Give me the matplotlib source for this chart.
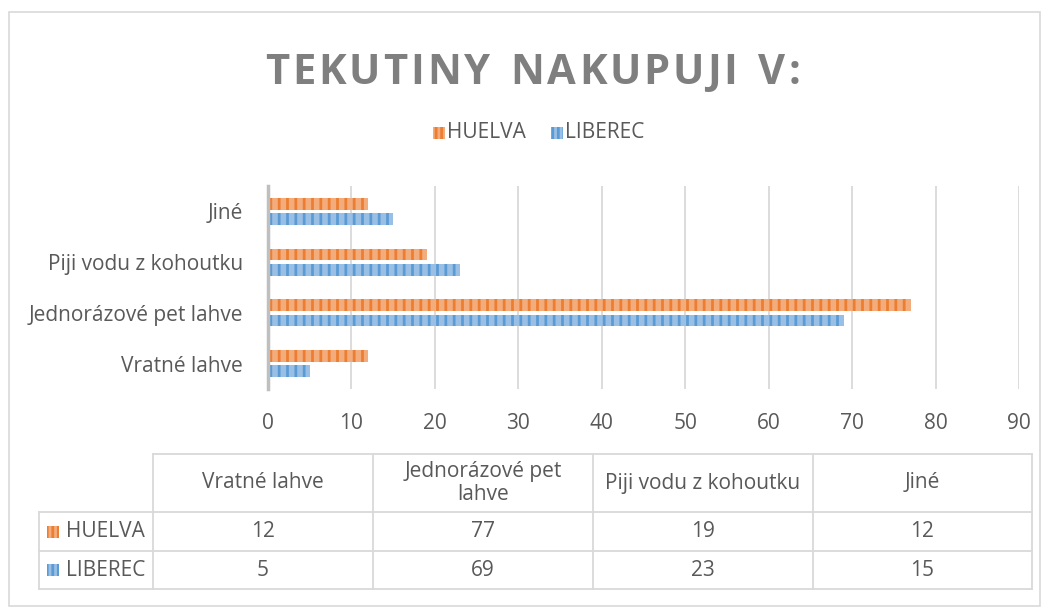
import matplotlib
matplotlib.use("Agg")
import matplotlib.pyplot as plt
from matplotlib.patches import Rectangle
from matplotlib.lines import Line2D
import numpy as np

categories = ["Vratné lahve", "Jednorázové pet lahve", "Piji vodu z kohoutku", "Jiné"]
series_names = ["HUELVA", "LIBEREC"]
huelva = [12, 77, 19, 12]
liberec = [5, 69, 23, 15]
x_ticks = [0, 10, 20, 30, 40, 50, 60, 70, 80, 90]
title = "TEKUTINY NAKUPUJI V:"

W, H = 1049, 610
DPI = 100
plt.rcParams['font.family'] = ['Open Sans', 'DejaVu Sans']
plt.rcParams['hatch.linewidth'] = 2.0

fig = plt.figure(figsize=(W / DPI, H / DPI), dpi=DPI)
fig.patch.set_facecolor("white")

def fx(x):
    return x / W

def fy(y):
    return 1 - y / H

TXT = "#595959"
GRID = "#D9D9D9"
ORANGE = "#ED7D31"
ORANGE_F = "#F3AC7C"
BLUE = "#5B9BD5"
BLUE_F = "#99C0E4"
FS = 15

# outer chart border
fig.add_artist(Rectangle((fx(9), fy(606)), fx(1040) - fx(9), fy(12) - fy(606),
                         transform=fig.transFigure, fill=False, edgecolor=GRID, lw=1.2))

# axes
ax_l, ax_r, ax_t, ax_b = 268, 1019, 186, 389
ax = fig.add_axes([fx(ax_l), fy(ax_b), fx(ax_r) - fx(ax_l), fy(ax_t) - fy(ax_b)])
y = np.arange(len(categories))
bh = 0.23
off = 0.15
ax.barh(y + off, huelva, height=bh, color=ORANGE_F, edgecolor=ORANGE, hatch='||', lw=0, zorder=3)
ax.barh(y - off, liberec, height=bh, color=BLUE_F, edgecolor=BLUE, hatch='||', lw=0, zorder=3)
ax.set_xlim(0, 90)
ax.set_ylim(-0.5, len(categories) - 0.5)
ax.set_xticks(x_ticks)
ax.set_xticklabels([str(t) for t in x_ticks])
ax.set_yticks(y)
ax.set_yticklabels(categories)
ax.tick_params(axis='both', length=0, labelsize=FS, colors=TXT)
ax.tick_params(axis='x', pad=17)
ax.tick_params(axis='y', pad=18)
ax.grid(axis='x', color=GRID, lw=1.3, zorder=0)
for s in ['top', 'right', 'bottom']:
    ax.spines[s].set_visible(False)
ax.spines['left'].set_color('#BFBFBF')
ax.spines['left'].set_linewidth(2.5)
ax.spines['left'].set_zorder(4)

# title with letter spacing
renderer = fig.canvas.get_renderer()
tsize = 30
widths = []
for ch in title:
    t = fig.text(0, 0, ch if ch != " " else "n", fontsize=tsize, fontweight='bold')
    bb = t.get_window_extent(renderer)
    widths.append(bb.width if ch != " " else bb.width * 0.55)
    t.remove()
target_w = 800 - 265
extra = (target_w - sum(widths)) / (len(title) - 1)
xpos = 265
for ch, w in zip(title, widths):
    if ch != " ":
        fig.text(fx(xpos), fy(73), ch, fontsize=tsize, fontweight='bold', color="#7F7F7F",
                 ha='left', va='center')
    xpos += w + extra

# legend
def hatched_key(x, y, color, fill, size=12):
    fig.add_artist(Rectangle((fx(x), fy(y + size / 2)), size / W, size / H,
                             transform=fig.transFigure, facecolor=fill, edgecolor=color,
                             hatch='|||', lw=0))

leg_items = [(433, series_names[0], ORANGE, ORANGE_F), (551, series_names[1], BLUE, BLUE_F)]
for x0, name, c, f in leg_items:
    hatched_key(x0, 133, c, f)
    fig.text(fx(x0 + 14), fy(133), name, fontsize=FS, color=TXT, va='center', ha='left')

# data table
col_x = [153, 373, 593, 813, 1032]
lab_x0 = 39
row_y = [454, 512, 551, 589]
lc = GRID
lw = 1.3
def hline(x0, x1, yy):
    fig.add_artist(Line2D([fx(x0), fx(x1)], [fy(yy), fy(yy)], transform=fig.transFigure, color=lc, lw=lw))
def vline(xx, y0, y1):
    fig.add_artist(Line2D([fx(xx), fx(xx)], [fy(y0), fy(y1)], transform=fig.transFigure, color=lc, lw=lw))

hline(col_x[0], col_x[-1], row_y[0])
for yy in row_y[1:]:
    hline(lab_x0, col_x[-1], yy)
for xx in col_x:
    vline(xx, row_y[0], row_y[-1])
vline(lab_x0, row_y[1], row_y[-1])

header_labels = ["Vratné lahve", "Jednorázové pet\nlahve", "Piji vodu z kohoutku", "Jiné"]
for i, lab in enumerate(header_labels):
    cx = (col_x[i] + col_x[i + 1]) / 2
    fig.text(fx(cx), fy((row_y[0] + row_y[1]) / 2), lab, fontsize=FS, color=TXT,
             ha='center', va='center', linespacing=1.15)

rows = [huelva, liberec]
keys = [(ORANGE, ORANGE_F), (BLUE, BLUE_F)]
for r, (vals, name, (c, f)) in enumerate(zip(rows, series_names, keys)):
    cy = (row_y[r + 1] + row_y[r + 2]) / 2
    hatched_key(47, cy, c, f)
    fig.text(fx(66), fy(cy), name, fontsize=FS, color=TXT, ha='left', va='center')
    for i, v in enumerate(vals):
        cx = (col_x[i] + col_x[i + 1]) / 2
        fig.text(fx(cx), fy(cy), str(v), fontsize=FS, color=TXT, ha='center', va='center')

fig.savefig("out.png", dpi=DPI, facecolor="white")
